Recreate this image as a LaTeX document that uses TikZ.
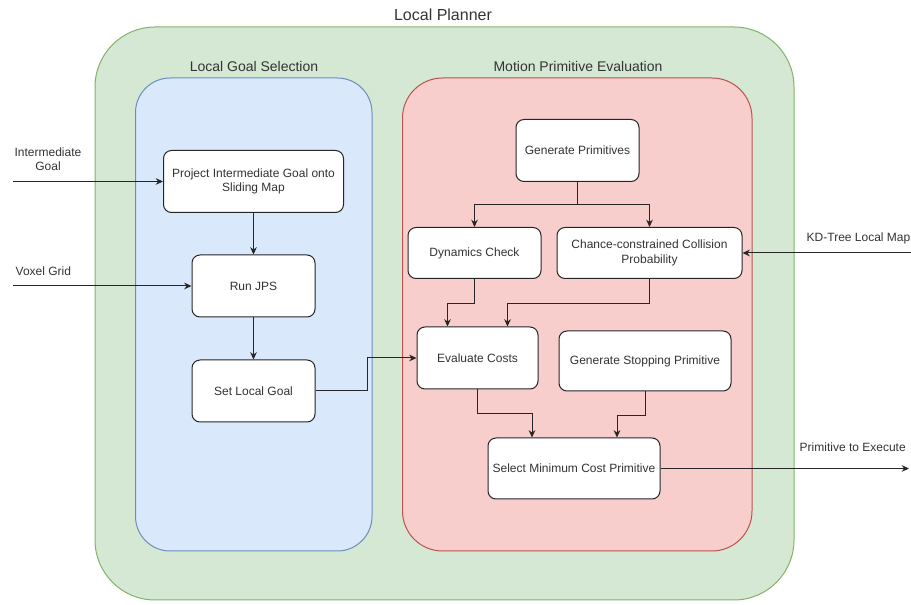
\documentclass[tikz,border=0pt]{standalone}
\usepackage{fontspec}
\setmainfont{Liberation Sans}
\usetikzlibrary{arrows.meta,calc}

\definecolor{grnfill}{HTML}{D5E8D4}
\definecolor{grnline}{HTML}{82B366}
\definecolor{blufill}{HTML}{DAE8FC}
\definecolor{bluline}{HTML}{6C8EBF}
\definecolor{redfill}{HTML}{F8CECC}
\definecolor{redline}{HTML}{B85450}
\definecolor{txt}{HTML}{333333}

\begin{document}
\begin{tikzpicture}[x=0.75pt,y=-0.75pt,
  font=\fontsize{9}{10.8}\selectfont,
  every node/.style={text=txt},
  box/.style={draw=black!85, line width=0.75pt, fill=white, rounded corners=6pt,
    align=center, inner sep=1pt},
  arr/.style={draw=black!85, line width=0.75pt, -{Stealth[length=5.5pt,width=5pt]}},
  title/.style={font=\fontsize{10.5}{12.6}\selectfont}
]
\useasboundingbox (0,0) rectangle (911,605);

% containers
\draw[fill=grnfill, draw=grnline, line width=0.75pt, rounded corners=45pt]
  (95,27) rectangle (794,600);
\draw[fill=blufill, draw=bluline, line width=0.75pt, rounded corners=26pt]
  (135.5,78) rectangle (372,551);
\draw[fill=redfill, draw=redline, line width=0.75pt, rounded corners=30pt]
  (402.5,78) rectangle (752,551);

\node[font=\fontsize{12}{14}\selectfont] (lp) at (443,15) {Local Planner};
\node[title] (lgs) at (254,67) {Local Goal Selection};
\node[title] (mpe) at (578,67) {Motion Primitive Evaluation};

% local goal selection
\node[box, minimum width=135pt, minimum height=46.5pt] (proj) at (253.5,181.5)
  {Project Intermediate Goal onto\\Sliding Map};
\node[box, minimum width=92.25pt, minimum height=46.5pt] (jps) at (253.5,286) {Run JPS};
\node[box, minimum width=92.25pt, minimum height=46.5pt] (slg) at (253.5,391) {Set Local Goal};

% motion primitive evaluation
\node[box, minimum width=92.25pt, minimum height=46.5pt] (gp) at (577.5,150.5) {Generate Primitives};
\node[box, minimum width=99.75pt, minimum height=38.25pt] (dyn) at (474.5,253) {Dynamics Check};
\node[box, minimum width=138.75pt, minimum height=38.25pt] (ccp) at (649.5,253)
  {Chance-constrained Collision\\Probability};
\node[box, minimum width=90.75pt, minimum height=46.5pt] (ec) at (477.5,358) {Evaluate Costs};
\node[box, minimum width=129pt, minimum height=45pt] (gsp) at (645,361) {Generate Stopping Primitive};
\node[box, minimum width=129pt, minimum height=45.75pt] (smc) at (574,468.5) {Select Minimum Cost Primitive};

% external labels and free ends
\node[align=center] (igl) at (48,159) {Intermediate\\Goal};
\node[anchor=west] (vgl) at (11,271) {Voxel Grid};
\node[anchor=west] (kdl) at (802,238) {KD-Tree Local Map};
\node[anchor=west] (pel) at (795,447) {Primitive to Execute};
\coordinate (igin) at (13,181.5);
\coordinate (vgin) at (13,286);
\coordinate (kdin) at (911,253);
\coordinate (peout) at (909,468.5);

% connectors
\draw[arr] (igin) -- (proj.west);
\draw[arr] (vgin) -- (jps.west);
\draw[arr] (kdin) -- (ccp.east);
\draw[arr] (smc.east) -- (peout);

\draw[arr] (proj.south) -- (jps.north);
\draw[arr] (jps.south) -- (slg.north);
\draw[arr] (slg.east) -- ++(52,0) |- (ec.west);

\draw[arr] (gp.south) -- ++(0,23) -| (dyn.north);
\draw[arr] (gp.south) -- ++(0,23) -| (ccp.north);
\draw[arr] (dyn.south) -- ++(0,24.5) -| ($(ec.north)+(-30,0)$);
\draw[arr] (ccp.south) -- ++(0,24.5) -| ($(ec.north)+(30,0)$);
\draw[arr] (ec.south) -- ++(0,24) -| ($(smc.north)+(-42,0)$);
\draw[arr] (gsp.south) -- ++(0,24) -| ($(smc.north)+(43,0)$);
\end{tikzpicture}
\end{document}
